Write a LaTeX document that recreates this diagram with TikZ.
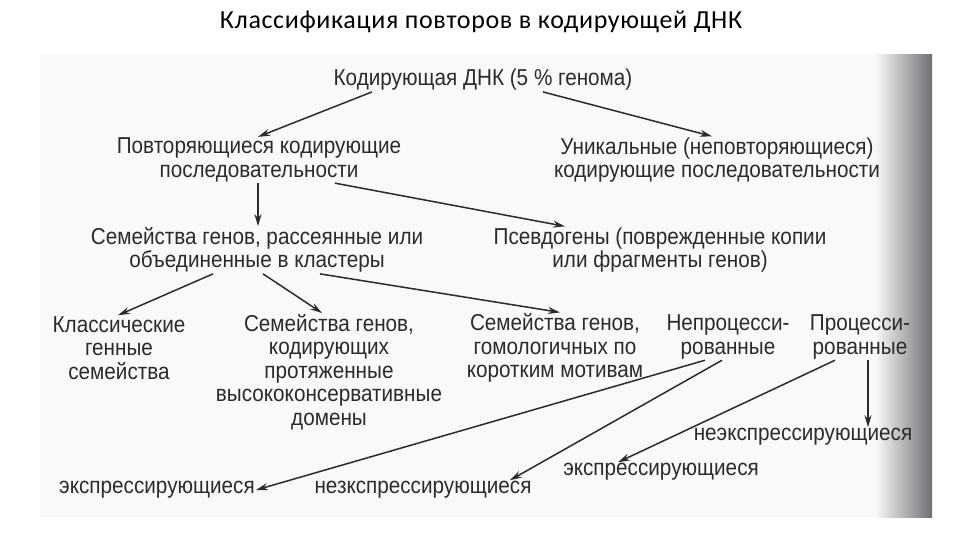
\documentclass[tikz,border=0pt]{standalone}
\usepackage{fontspec}
\setmainfont{Liberation Sans}
\newfontfamily\condfont[FakeStretch=0.9]{Liberation Sans}
\newfontfamily\titlefont[LetterSpace=2.5]{Carlito}
\usetikzlibrary{arrows.meta}
\definecolor{ink}{HTML}{2B2B2B}
\definecolor{scan}{HTML}{F9F9FA}
\definecolor{edge}{HTML}{707074}
\tikzset{
  lbl/.style={font=\condfont\fontsize{23}{23.5}\selectfont, text=ink, align=center, inner sep=1pt},
  arr/.style={draw=ink, line width=1.5pt, -{Stealth[length=12pt,width=7pt]}},
}
\begin{document}
\begin{tikzpicture}[x=1pt,y=-1pt]
\useasboundingbox (0,0) rectangle (960,540);
\fill[white] (0,0) rectangle (960,540);
% scanned page
\fill[scan] (40,55) rectangle (932,517);
\shade[left color=scan, right color=edge] (875,55) rectangle (932,517);
% title
\node[font=\titlefont\fontsize{26}{30}\selectfont, text=black] (title) at (481,22) {Классификация повторов в кодирующей ДНК};
% nodes
\node[lbl] (top) at (483,80) {Кодирующая ДНК (5 \% генома)};
\node[lbl] (rep) at (259,160) {Повторяющиеся кодирующие\\последовательности};
\node[lbl] (uniq) at (717,160) {Уникальные (неповторяющиеся)\\кодирующие последовательности};
\node[lbl] (fam) at (257,250) {Семейства генов, рассеянные или\\объединенные в кластеры};
\node[lbl] (pseudo) at (660,250) {Псевдогены (поврежденные копии\\или фрагменты генов)};
\node[lbl] (class) at (119,348) {Классические\\генные\\семейства};
\node[lbl] (longdom) at (329,372) {Семейства генов,\\кодирующих\\протяженные\\высококонсервативные\\домены};
\node[lbl] (short) at (555,348) {Семейства генов,\\гомологичных по\\коротким мотивам};
\node[lbl] (nonproc) at (728,337) {Непроцесси-\\рованные};
\node[lbl] (proc) at (860,337) {Процесси-\\рованные};
\node[lbl] (nexpR) at (803,437) {неэкспрессирующиеся};
\node[lbl] (expM) at (661,472) {экспрессирующиеся};
\node[lbl] (expL) at (157,490) {экспрессирующиеся};
\node[lbl] (nexpL) at (423,490) {незкспрессирующиеся};
% connectors
\draw[arr] (372,0 |- top.south) -- (258,0 |- rep.north);
\draw[arr] (543,0 |- top.south) -- (712,0 |- uniq.north);
\draw[arr] (258,0 |- rep.south) -- (258,0 |- fam.north);
\draw[arr] (335,0 |- rep.south) -- (565,0 |- pseudo.north);
\draw[arr] (213,0 |- fam.south) -- (118,0 |- class.north);
\draw[arr] (263,0 |- fam.south) -- (322,0 |- longdom.north);
\draw[arr] (320,0 |- fam.south) -- (560,0 |- short.north);
\draw[arr] (705,0 |- nonproc.south) -- (expL.east);
\draw[arr] (722,0 |- nonproc.south) -- (510,0 |- nexpL.north);
\draw[arr] (835,0 |- proc.south) -- (618,0 |- expM.north);
\draw[arr] (868,0 |- proc.south) -- (868,0 |- nexpR.north);
\end{tikzpicture}
\end{document}
